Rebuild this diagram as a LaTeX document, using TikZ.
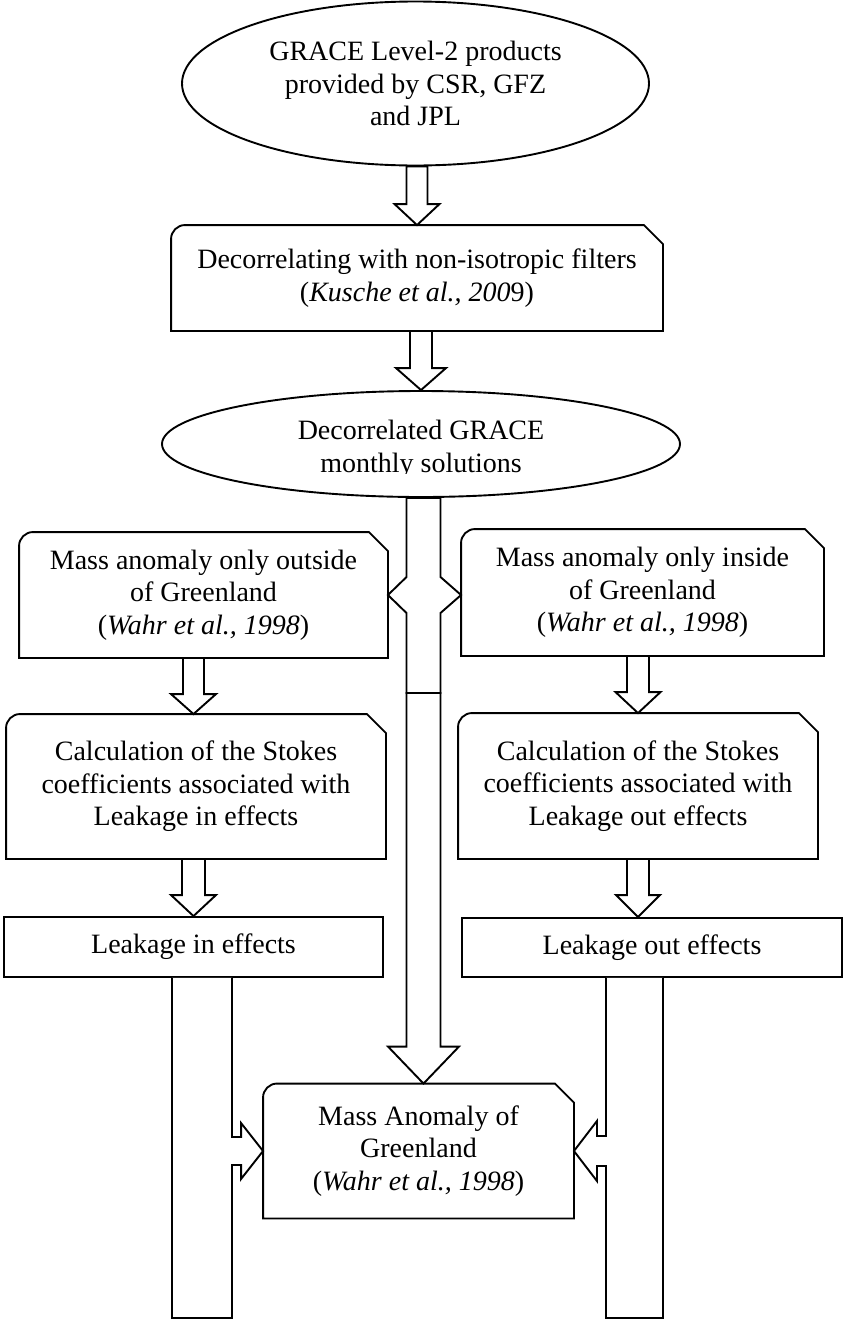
\documentclass[tikz,border=0pt]{standalone}
\usepackage{fontspec}
\setmainfont{Liberation Serif}
\usetikzlibrary{calc,shapes.geometric}
\newcommand{\fatdown}[5]{\draw[blk] let \p1=#1, \p2=#2 in (\x2-#3,\y1) -- (\x2-#3,\y2+#5) -- (\x2-#4,\y2+#5) -- (\x2,\y2) -- (\x2+#4,\y2+#5) -- (\x2+#3,\y2+#5) -- (\x2+#3,\y1) -- cycle;}
\newcommand{\srframe}[1]{\draw (#1.south west) -- ([yshift=-14pt]#1.north west) arc[start angle=180,end angle=90,radius=14pt] -- ([xshift=-19pt]#1.north east) -- ([yshift=-19pt]#1.north east) -- (#1.south east) -- cycle;}
\begin{document}
\begin{tikzpicture}[x=1pt,y=-1pt,line width=1.9pt,line join=miter,
 every node/.style={font=\fontsize{28}{32.5}\selectfont,align=center,inner sep=0pt},
 oval/.style={ellipse,draw},rect/.style={draw},blk/.style={draw,fill=white}]
\useasboundingbox (0,0) rectangle (843,1320);
% boxes
\node[oval,minimum width=467pt,minimum height=164pt] (top) at (415.5,83.5) {GRACE Level-2 products\\provided by CSR, GFZ\\and JPL};
\node[minimum width=490pt,minimum height=104pt] (dec) at (417,278) {Decorrelating with non-isotropic filters\\(\textit{Kusche et al., 200}9)};
\node[oval,minimum width=518pt,minimum height=106pt] (dg) at (421,444) {};
\begin{scope}
\clip (150,380) rectangle (700,473.5);
\node (dgtxt) at (421,449.5) {Decorrelated GRACE\\monthly solutions};
\end{scope}
\node[minimum width=367pt,minimum height=124pt] (outb) at (203.5,595) {Mass anomaly only outside\\of Greenland\\(\textit{Wahr et al., 1998})};
\node[minimum width=361pt,minimum height=125pt] (inb) at (642.5,592.5) {Mass anomaly only inside\\of Greenland\\(\textit{Wahr et al., 1998})};
\node[minimum width=378pt,minimum height=143pt] (lcalc) at (196,786.5) {Calculation of the Stokes\\coefficients associated with\\Leakage in effects};
\node[minimum width=358pt,minimum height=144pt] (rcalc) at (638,786) {Calculation of the Stokes\\coefficients associated with\\Leakage out effects};
\node[rect,minimum width=379pt,minimum height=60pt] (lin) at (193.5,947) {Leakage in effects};
\node[rect,minimum width=380pt,minimum height=59pt] (lout) at (652,947.5) {Leakage out effects};
\node[minimum width=309pt,minimum height=133pt] (mass) at (418.5,1151) {Mass Anomaly of\\Greenland\\(\textit{Wahr et al., 1998})};
\foreach \n in {dec,outb,inb,lcalc,rcalc,mass} \srframe{\n};
\coordinate (mid) at (423.5,693);
\coordinate (foot) at (421,1318);
% block arrows
\fatdown{(top.south)}{(dec.north)}{10.5pt}{22.5pt}{21pt}
\fatdown{(dec.south)}{(dg.north)}{11pt}{25pt}{22pt}
\fatdown{(outb.south)}{([xshift=-2.5pt]lcalc.north)}{10.5pt}{22.5pt}{20pt}
\fatdown{(inb.south)}{(rcalc.north)}{11pt}{22.5pt}{21pt}
\fatdown{(lcalc.south)}{(lin.north)}{11.5pt}{22.5pt}{21pt}
\fatdown{(rcalc.south)}{(rcalc.south |- lout.north)}{11pt}{22pt}{22pt}
\fatdown{(mid)}{(mid |- mass.north)}{17pt}{35.5pt}{37pt}
\draw[blk] let \p1=(dg.south), \p2=(mid), \p3=(outb.east), \p4=(inb.west) in (\x2-17pt,\y1) -- (\x2-17pt,\y3+18pt) -- (\x3,\y3) -- (\x2-17pt,\y3-18pt) -- (\x2-17pt,\y2) -- (\x2+17pt,\y2) -- (\x2+17pt,\y3-18pt) -- (\x4,\y3) -- (\x2+17pt,\y3+18pt) -- (\x2+17pt,\y1) -- cycle;
\draw[blk] let \p1=(lin.south), \p2=(mass.west), \p3=(foot) in (\x1-21.5pt,\y1) -- (\x1-21.5pt,\y3) -- (\x1+38.5pt,\y3) -- (\x1+38.5pt,\y2-14pt) -- (\x2-22pt,\y2-14pt) -- (\x2-22pt,\y2-28pt) -- (\x2,\y2) -- (\x2-22pt,\y2+28pt) -- (\x2-22pt,\y2+14pt) -- (\x1+38.5pt,\y2+14pt) -- (\x1+38.5pt,\y1);
\draw[blk] let \p1=(lout.south), \p2=(mass.east), \p3=(foot) in (\x1+11pt,\y1) -- (\x1+11pt,\y3) -- (\x1-46pt,\y3) -- (\x1-46pt,\y2-15pt) -- (\x2+23pt,\y2-15pt) -- (\x2+23pt,\y2-30pt) -- (\x2,\y2) -- (\x2+23pt,\y2+30pt) -- (\x2+23pt,\y2+15pt) -- (\x1-46pt,\y2+15pt) -- (\x1-46pt,\y1);
\end{tikzpicture}
\end{document}
